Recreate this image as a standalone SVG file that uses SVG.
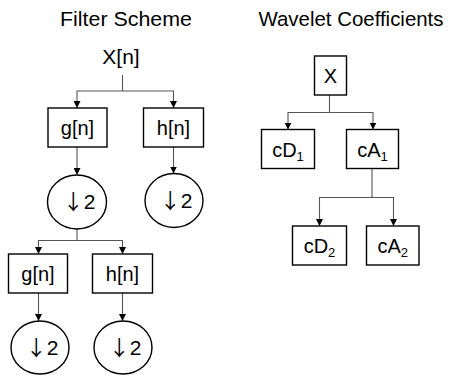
<svg xmlns="http://www.w3.org/2000/svg" width="449" height="375" viewBox="0 0 449 375">
<defs>
<marker id="ah" markerWidth="7" markerHeight="7" refX="7" refY="3.5" orient="auto" markerUnits="userSpaceOnUse">
<path d="M0,0 L7,3.5 L0,7 z" fill="#000"/>
</marker>
<style>
text{font-family:"Liberation Sans","DejaVu Sans",sans-serif;fill:#000;text-anchor:middle}
.title{font-size:20.5px}
.lbl{font-size:20px}
.big{font-size:21px}
.arr{font-family:"Noto Sans CJK SC","DejaVu Sans",sans-serif;font-size:21px}
.box{fill:#fff;stroke:#000;stroke-width:1.4}
.conn path{fill:none;stroke:#555;stroke-width:1.1}
.sub{font-size:13px}
</style>
</defs>
<rect width="449" height="375" fill="#fff"/>
<text class="title" x="126" y="26" textLength="132" lengthAdjust="spacingAndGlyphs">Filter Scheme</text>
<text class="title" x="351" y="26" textLength="185" lengthAdjust="spacingAndGlyphs">Wavelet Coefficients</text>

<g class="conn">
<path d="M122.5,75 V91"/>
<path d="M122.5,91 H77 V108" marker-end="url(#ah)"/>
<path d="M122.5,91 H173.5 V108" marker-end="url(#ah)"/>
<path d="M77,147 V175" marker-end="url(#ah)"/>
<path d="M173.5,147 V173.5" marker-end="url(#ah)"/>
<path d="M77,229 V240.5"/>
<path d="M77,240.5 H38.5 V254" marker-end="url(#ah)"/>
<path d="M77,240.5 H122.5 V254" marker-end="url(#ah)"/>
<path d="M38.5,293 V321" marker-end="url(#ah)"/>
<path d="M122.5,293 V321" marker-end="url(#ah)"/>
<path d="M329.5,95 V112.5"/>
<path d="M329.5,112.5 H288 V129.5" marker-end="url(#ah)"/>
<path d="M329.5,112.5 H373 V129.5" marker-end="url(#ah)"/>
<path d="M372,168.5 V197.5"/>
<path d="M372,197.5 H319.5 V226" marker-end="url(#ah)"/>
<path d="M372,197.5 H393.5 V226" marker-end="url(#ah)"/>
</g>

<g id="xn"><text class="big" x="121" y="64">X[n]</text></g>
<g id="g1"><rect class="box" x="48" y="108" width="59" height="39"/><text class="lbl" x="77.5" y="134.5">g[n]</text></g>
<g id="h1"><rect class="box" x="143.5" y="108" width="60" height="39"/><text class="lbl" x="173.5" y="134.5">h[n]</text></g>
<g id="d1"><ellipse class="box" cx="77" cy="202" rx="29.5" ry="27"/><text class="big" x="79" y="209"><tspan class="arr">↓</tspan>2</text></g>
<g id="d2"><ellipse class="box" cx="174" cy="200.5" rx="29" ry="27"/><text class="big" x="176" y="207.5"><tspan class="arr">↓</tspan>2</text></g>
<g id="g2"><rect class="box" x="8.5" y="254" width="59" height="39"/><text class="lbl" x="38" y="280.5">g[n]</text></g>
<g id="h2"><rect class="box" x="92.5" y="254" width="60" height="39"/><text class="lbl" x="122.5" y="280.5">h[n]</text></g>
<g id="d3"><ellipse class="box" cx="40" cy="347.5" rx="29" ry="26.5"/><text class="big" x="42" y="355"><tspan class="arr">↓</tspan>2</text></g>
<g id="d4"><ellipse class="box" cx="123" cy="347.5" rx="29" ry="26.5"/><text class="big" x="125" y="355"><tspan class="arr">↓</tspan>2</text></g>

<g id="X"><rect class="box" x="314.5" y="56" width="32" height="39"/><text class="lbl" x="330.5" y="82.5">X</text></g>
<g id="cD1"><rect class="box" x="261.5" y="129.5" width="53" height="39"/><text class="lbl" x="288" y="156.5">cD<tspan class="sub" dy="4">1</tspan></text></g>
<g id="cA1"><rect class="box" x="346.5" y="129.5" width="52" height="39"/><text class="lbl" x="372.5" y="156.5">cA<tspan class="sub" dy="4">1</tspan></text></g>
<g id="cD2"><rect class="box" x="292.5" y="226" width="54" height="39"/><text class="lbl" x="319.5" y="253">cD<tspan class="sub" dy="4">2</tspan></text></g>
<g id="cA2"><rect class="box" x="366.5" y="226" width="52.5" height="39"/><text class="lbl" x="392.75" y="253">cA<tspan class="sub" dy="4">2</tspan></text></g>
</svg>
